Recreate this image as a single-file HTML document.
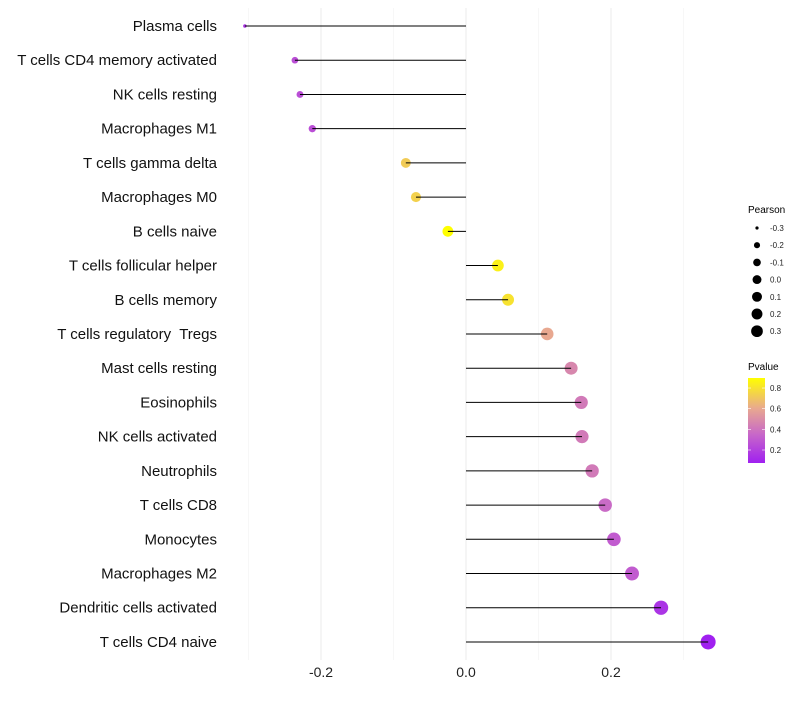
<!DOCTYPE html>
<html><head><meta charset="utf-8"><style>
body{margin:0;background:#fff;}
svg text{font-family:"Liberation Sans",sans-serif;white-space:pre;}
</style></head><body>
<svg id="chart" width="800" height="700">
<g id="grid"></g><g id="marks"></g><g id="labels"></g><g id="legend"></g>
<defs><linearGradient id="pg" x1="0" y1="1" x2="0" y2="0">
<stop offset="0" stop-color="#A020F0"/><stop offset="0.34" stop-color="#C868C8"/><stop offset="0.64" stop-color="#E8A890"/><stop offset="1" stop-color="#FFFF00"/></linearGradient></defs>
</svg>
<script>
const categories=["Plasma cells","T cells CD4 memory activated","NK cells resting","Macrophages M1","T cells gamma delta","Macrophages M0","B cells naive","T cells follicular helper","B cells memory","T cells regulatory  Tregs","Mast cells resting","Eosinophils","NK cells activated","Neutrophils","T cells CD8","Monocytes","Macrophages M2","Dendritic cells activated","T cells CD4 naive"];
const pearson=[-0.305,-0.236,-0.229,-0.212,-0.083,-0.069,-0.025,0.044,0.058,0.112,0.145,0.159,0.160,0.174,0.192,0.204,0.229,0.269,0.334];
const pvalue=[0.15,0.25,0.25,0.25,0.72,0.74,0.92,0.85,0.8,0.6,0.47,0.42,0.42,0.42,0.36,0.3,0.3,0.15,0.07];
const xTicks=[-0.2,0.0,0.2];
const xMinor=[-0.3,-0.1,0.1,0.3];
const sizeLegend=[-0.3,-0.2,-0.1,0.0,0.1,0.2,0.3];
const pTicks=[0.2,0.4,0.6,0.8];
const NS="http://www.w3.org/2000/svg";
function mk(t,a,p){const e=document.createElementNS(NS,t);for(const k in a)e.setAttribute(k,a[k]);p.appendChild(e);return e;}
const xs=v=>466+v*725;
const ys=i=>26+i*34.22;
const rs=v=>1.2+6.3*Math.sqrt(Math.max(0,(v+0.31)/0.645));
function hex(h){return [1,3,5].map(i=>parseInt(h.substr(i,2),16));}
const stops=[[0.07,hex("#A020F0")],[0.35,hex("#C868C8")],[0.6,hex("#E8A890")],[0.9,hex("#FFFF00")]];
function col(p){p=Math.max(0.07,Math.min(0.9,p));let k=0;while(k<stops.length-2&&p>stops[k+1][0])k++;const a=stops[k],b=stops[k+1];
const t=(p-a[0])/(b[0]-a[0]);const c=a[1].map((v,i)=>Math.round(v+(b[1][i]-v)*t));return `rgb(${c.join(",")})`;}
const grid=document.getElementById("grid"),marks=document.getElementById("marks"),labels=document.getElementById("labels"),leg=document.getElementById("legend");
xMinor.forEach(v=>{const l=mk("line",{x1:xs(v),x2:xs(v),y1:8,y2:660,stroke:"#f2f2f2","stroke-width":0.6},grid);

});
xTicks.forEach(v=>{const l=mk("line",{x1:xs(v),x2:xs(v),y1:8,y2:660,stroke:"#ebebeb","stroke-width":1},grid);


const t=mk("text",{x:xs(v),y:677,"text-anchor":"middle","font-size":14,fill:"#222"},labels);t.textContent=v.toFixed(1);

});
categories.forEach((c,i)=>{const y=ys(i);
const t=mk("text",{x:217,y:y+5,"text-anchor":"end","font-size":15,fill:"#111"},labels);t.textContent=c;


const d=mk("circle",{cx:xs(pearson[i]),cy:y,r:rs(pearson[i]),fill:col(pvalue[i])},marks);


const s=mk("line",{x1:xs(0),x2:xs(pearson[i]),y1:y,y2:y,stroke:"#000","stroke-width":1},marks);

});
let t=mk("text",{x:748,y:213,"font-size":10,fill:"#000"},leg);t.textContent="Pearson";


sizeLegend.forEach((v,i)=>{const y=228+i*17.2;
const c=mk("circle",{cx:757,cy:y,r:Math.min(6.5,rs(v)*0.8),fill:"#000"},leg);


const tt=mk("text",{x:770,y:y+3,"font-size":8,fill:"#222"},leg);tt.textContent=v.toFixed(1);

});
t=mk("text",{x:748,y:370,"font-size":10,fill:"#000"},leg);t.textContent="Pvalue";


const bar=mk("rect",{x:748,y:378,width:17,height:85,fill:"url(#pg)"},leg);


const py=p=>450-(p-0.2)*103.3;
pTicks.forEach(p=>{const y=py(p);
const a=mk("line",{x1:748,x2:751,y1:y,y2:y,stroke:"#fff","stroke-width":0.6},leg);


const b=mk("line",{x1:762,x2:765,y1:y,y2:y,stroke:"#fff","stroke-width":0.6},leg);


const tt=mk("text",{x:770,y:y+3,"font-size":8,fill:"#222"},leg);tt.textContent=p.toFixed(1);

});
</script>
</body></html>
